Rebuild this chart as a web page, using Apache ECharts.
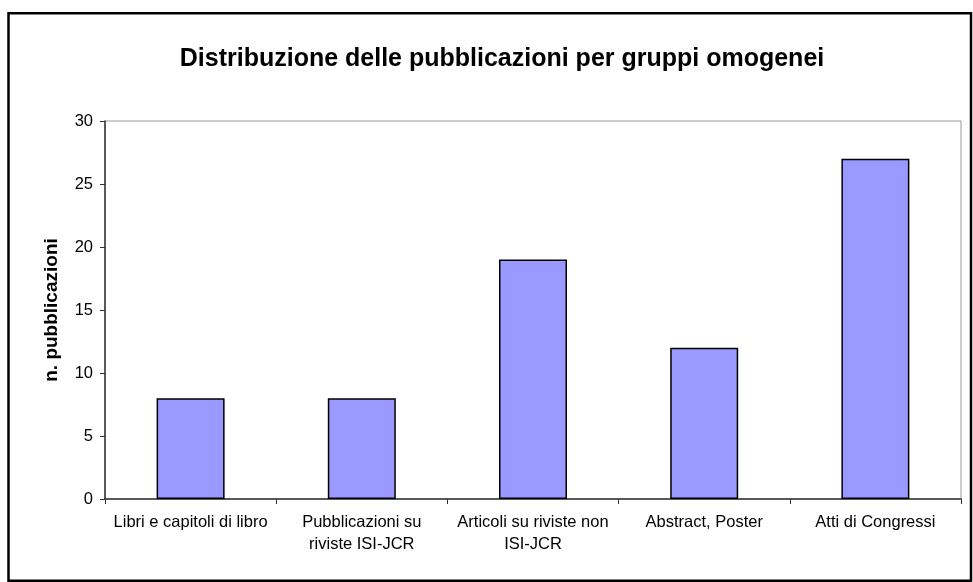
<!DOCTYPE html>
<html>
<head>
<meta charset="utf-8">
<script src="https://cdn.jsdelivr.net/npm/echarts@6/dist/echarts.min.js"></script>
<style>html,body{margin:0;padding:0;background:#fff}#c{width:973px;height:582px}</style>
</head>
<body>
<div id="c"></div>
<script>
const titleText = 'Distribuzione delle pubblicazioni per gruppi omogenei';
const yAxisName = 'n. pubblicazioni';
const categories = ['Libri e capitoli di libro', 'Pubblicazioni su\nriviste ISI-JCR', 'Articoli su riviste non\nISI-JCR', 'Abstract, Poster', 'Atti di Congressi'];
const values = [8, 8, 19, 12, 27];
const yTicks = {min: 0, max: 30, interval: 5};

const chart = echarts.init(document.getElementById('c'), null, {renderer: 'canvas'});
const font = 'Liberation Sans, Arial, sans-serif';
chart.setOption({
  animation: false,
  backgroundColor: '#fff',
  textStyle: {fontFamily: font},
  title: {
    text: titleText,
    left: 497, top: 42, textAlign: 'center',
    textStyle: {fontFamily: font, fontSize: 25, fontWeight: 'bold', color: '#000'}
  },
  graphic: [{
    type: 'rect', z: 100,
    shape: {x: 8.5, y: 13.3, width: 962.5, height: 567.5},
    style: {fill: 'none', stroke: '#000', lineWidth: 2.5}
  }],
  grid: {left: 105, top: 121, right: 12, bottom: 83, show: true, borderColor: '#999', borderWidth: 1, containLabel: false},
  xAxis: {
    type: 'category', data: categories,
    axisLine: {lineStyle: {color: '#333', width: 1.5}},
    axisTick: {show: true, length: 5, lineStyle: {color: '#333', width: 1}},
    axisLabel: {color: '#000', fontSize: 16.5, fontFamily: font, margin: 12, lineHeight: 22, interval: 0}
  },
  yAxis: {
    type: 'value', min: yTicks.min, max: yTicks.max, interval: yTicks.interval,
    name: yAxisName, nameLocation: 'middle', nameGap: 44, nameRotate: 90,
    nameTextStyle: {fontFamily: font, fontSize: 19, fontWeight: 'bold', color: '#000'},
    axisLine: {show: true, lineStyle: {color: '#333', width: 1.5}},
    axisTick: {show: true, length: 5, lineStyle: {color: '#333', width: 1}},
    splitLine: {show: false},
    axisLabel: {color: '#000', fontSize: 16.5, fontFamily: font, margin: 12}
  },
  series: [{
    type: 'bar', data: values, barWidth: 68,
    itemStyle: {color: '#9999FF', borderColor: '#000', borderWidth: 1.5}
  }]
});
</script>
</body>
</html>
